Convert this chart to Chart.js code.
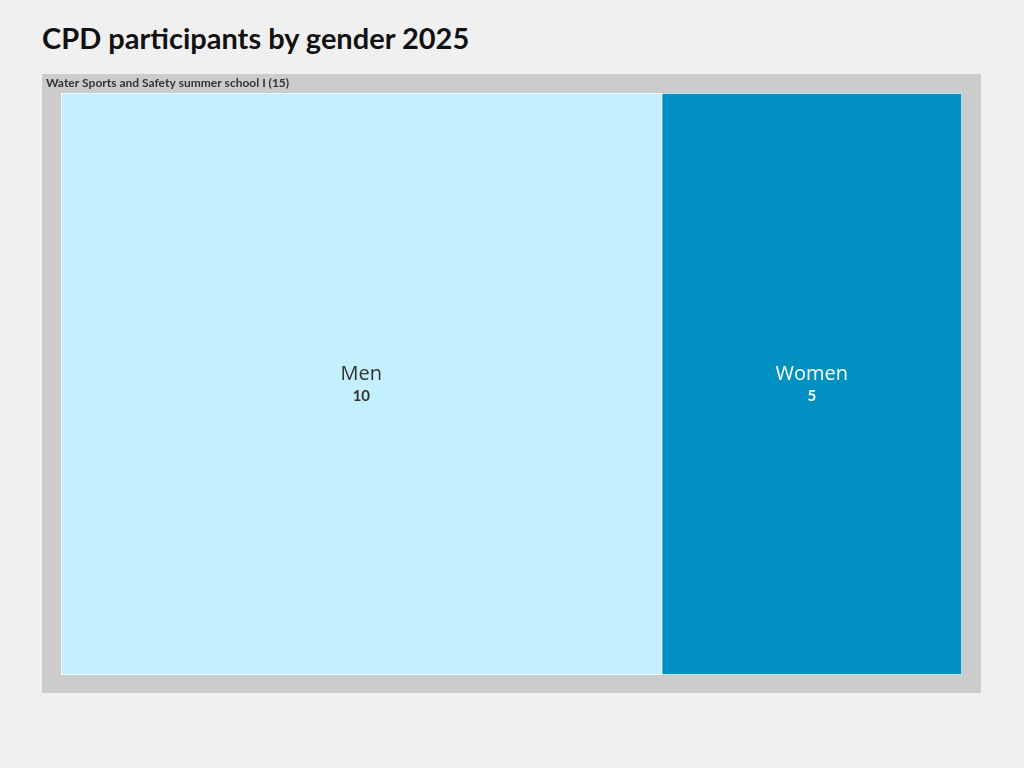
<!DOCTYPE html>
<html><head><meta charset="utf-8">
<script src="https://cdn.jsdelivr.net/npm/chart.js@4"></script>
<style>html,body{margin:0;padding:0;background:#f0f0f0;}
#t{position:absolute;left:42px;top:20px;font:bold 29px Lato,sans-serif;color:#111;}
canvas{position:absolute;left:0;top:0;}</style></head>
<body><div id="t">CPD participants by gender 2025</div>
<canvas id="c" width="1024" height="768"></canvas>
<script>
const groupLabel = "Water Sports and Safety summer school I";
const categories = ["Men", "Women"];
const values = [10, 5];
const colors = ["#c4f0fe", "#0091c2"];
const textColors = ["#333333", "#ffffff"];
const total = values.reduce((a,b)=>a+b,0);

const framePlugin = {
  id:'frame',
  beforeDraw(chart){
    const {ctx, chartArea:a} = chart;
    ctx.save();
    ctx.fillStyle='#cccccc';
    ctx.fillRect(a.left-19, a.top-19, a.right-a.left+38, a.bottom-a.top+37);
    ctx.fillStyle='#333';
    ctx.font='bold 12px Lato, sans-serif';
    ctx.textBaseline='middle';
    ctx.fillText(groupLabel+' ('+total+')', a.left-15, a.top-10);
    ctx.restore();
  },
  afterDatasetsDraw(chart){
    const ctx=chart.ctx;
    chart.data.datasets.forEach((ds,i)=>{
      const el=chart.getDatasetMeta(i).data[0];
      const cx=(el.x+el.base)/2, cy=el.y;
      ctx.save();
      ctx.textAlign='center';ctx.textBaseline='middle';
      ctx.fillStyle=textColors[i];
      ctx.font='20px "Open Sans", sans-serif';
      ctx.fillText(categories[i], cx, cy-10);
      ctx.font='bold 15px Lato, sans-serif';
      ctx.fillText(String(values[i]), cx, cy+12);
      ctx.restore();
    });
  }
};

new Chart(document.getElementById('c'),{
  type:'bar',
  data:{labels:[groupLabel],
    datasets:categories.map((c,i)=>({label:c,data:[values[i]],backgroundColor:colors[i],
      borderColor:'#ffffff',borderWidth:1,borderSkipped:false,categoryPercentage:1,barPercentage:1}))},
  options:{responsive:false,animation:false,indexAxis:'y',
    layout:{padding:{left:61,right:62,top:93,bottom:93}},
    plugins:{legend:{display:false},tooltip:{enabled:false}},
    scales:{x:{stacked:true,display:false,min:0,max:total},y:{stacked:true,display:false}}},
  plugins:[framePlugin]
});
</script></body></html>
